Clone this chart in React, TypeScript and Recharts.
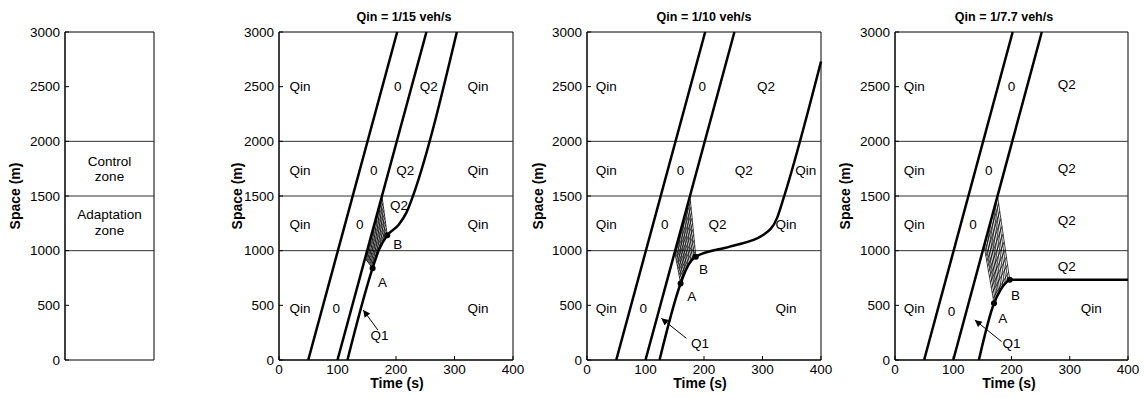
import { LineChart, Line, XAxis, YAxis, ReferenceLine, ReferenceDot, ReferenceArea } from "recharts";

type Pt = { t: number; s: number };
type Tag = { text: string; t: number; s: number };

const timeTicks = [0, 100, 200, 300, 400];
const spaceTicks = [0, 500, 1000, 1500, 2000, 2500, 3000];
const zoneBounds = [1000, 1500, 2000];

const firstVehicle: Pt[] = [{ t: 50, s: 0 }, { t: 202, s: 3000 }];
const secondVehicle: Pt[] = [{ t: 100, s: 0 }, { t: 252, s: 3000 }];

// third vehicle, one per inflow
const pathQ15: Pt[] = [
  { t: 117, s: 0 }, { t: 160, s: 840 }, { t: 171, s: 1010 }, { t: 185, s: 1140 },
  { t: 205, s: 1240 }, { t: 218, s: 1350 }, { t: 226, s: 1455 }, { t: 230, s: 1515 }, { t: 304, s: 3000 },
];
const pathQ10: Pt[] = [
  { t: 124, s: 0 }, { t: 160, s: 700 }, { t: 171, s: 845 }, { t: 186, s: 945 },
  { t: 244, s: 1037 }, { t: 301, s: 1143 }, { t: 325, s: 1300 }, { t: 336, s: 1480 }, { t: 400, s: 2730 },
];
const pathQ77: Pt[] = [
  { t: 144, s: 0 }, { t: 170, s: 519 }, { t: 181, s: 640 }, { t: 190, s: 705 }, { t: 197, s: 733 }, { t: 400, s: 735 },
];

// fan corners: A, mid of A-B curve, B, top on 2nd vehicle, left on 2nd vehicle
const fanQ15 = { A: { t: 160, s: 840 }, M: { t: 171, s: 1010 }, B: { t: 185, s: 1140 }, T: { t: 176, s: 1500 }, L: { t: 147, s: 930 } };
const fanQ10 = { A: { t: 160, s: 700 }, M: { t: 171, s: 845 }, B: { t: 186, s: 945 }, T: { t: 176, s: 1500 }, L: { t: 150, s: 990 } };
const fanQ77 = { A: { t: 170, s: 519 }, M: { t: 181, s: 640 }, B: { t: 197, s: 733 }, T: { t: 176, s: 1500 }, L: { t: 153, s: 1045 } };

const tagsQ15: Tag[] = [
  { text: "Qin", t: 36, s: 2500 }, { text: "0", t: 203, s: 2500 }, { text: "Q2", t: 256, s: 2500 }, { text: "Qin", t: 340, s: 2500 },
  { text: "Qin", t: 36, s: 1740 }, { text: "0", t: 162, s: 1740 }, { text: "Q2", t: 216, s: 1740 }, { text: "Qin", t: 340, s: 1740 },
  { text: "Qin", t: 36, s: 1240 }, { text: "0", t: 138, s: 1240 }, { text: "Q2", t: 205, s: 1420 }, { text: "Qin", t: 340, s: 1240 },
  { text: "B", t: 203, s: 1061 }, { text: "A", t: 177, s: 716 },
  { text: "Qin", t: 36, s: 470 }, { text: "0", t: 98, s: 470 }, { text: "Qin", t: 340, s: 470 }, { text: "Q1", t: 172, s: 229 },
];
const tagsQ10: Tag[] = [
  { text: "Qin", t: 33, s: 2500 }, { text: "0", t: 197, s: 2500 }, { text: "Q2", t: 306, s: 2500 },
  { text: "Qin", t: 33, s: 1740 }, { text: "0", t: 160, s: 1740 }, { text: "Q2", t: 268, s: 1740 }, { text: "Qin", t: 374, s: 1740 },
  { text: "Qin", t: 33, s: 1240 }, { text: "0", t: 133, s: 1240 }, { text: "Q2", t: 223, s: 1240 }, { text: "Qin", t: 340, s: 1240 },
  { text: "B", t: 199, s: 830 }, { text: "A", t: 179, s: 585 },
  { text: "Qin", t: 33, s: 470 }, { text: "0", t: 96, s: 470 }, { text: "Qin", t: 340, s: 470 }, { text: "Q1", t: 193, s: 152 },
];
const tagsQ77: Tag[] = [
  { text: "Qin", t: 33, s: 2500 }, { text: "0", t: 200, s: 2500 }, { text: "Q2", t: 295, s: 2520 },
  { text: "Qin", t: 33, s: 1740 }, { text: "0", t: 161, s: 1740 }, { text: "Q2", t: 295, s: 1750 },
  { text: "Qin", t: 33, s: 1240 }, { text: "0", t: 134, s: 1240 }, { text: "Q2", t: 295, s: 1281 },
  { text: "Q2", t: 295, s: 860 }, { text: "B", t: 207, s: 595 }, { text: "A", t: 185, s: 381 },
  { text: "Qin", t: 33, s: 470 }, { text: "0", t: 97, s: 442 }, { text: "Qin", t: 337, s: 470 }, { text: "Q1", t: 200, s: 152 },
];

const arrowQ15: Pt[] = [{ t: 169, s: 274 }, { t: 144, s: 457 }];
const arrowQ10: Pt[] = [{ t: 170, s: 198 }, { t: 127, s: 381 }];
const arrowQ77: Pt[] = [{ t: 183, s: 168 }, { t: 137, s: 366 }];

const zoneTags = [
  { text: "Control", s: 1820 }, { text: "zone", s: 1683 },
  { text: "Adaptation", s: 1336 }, { text: "zone", s: 1189 },
];

type Fan = { A: Pt; M: Pt; B: Pt; T: Pt; L: Pt };

const mix = (p: Pt, q: Pt, f: number): Pt => ({ t: p.t + (q.t - p.t) * f, s: p.s + (q.s - p.s) * f });
const onCurve = (f: Fan, u: number): Pt => (u < 0.5 ? mix(f.A, f.M, u * 2) : mix(f.M, f.B, u * 2 - 1));

// crosshatch texture inside the fan
function hatch(f: Fan, n = 11): Pt[][] {
  const out: Pt[][] = [];
  for (let k = 1; k < n; k++) {
    const u = k / n;
    out.push([onCurve(f, u), mix(f.L, f.T, u)]);
    out.push([mix(f.A, f.L, u), mix(f.B, f.T, u)]);
  }
  out.push([f.A, f.L], [f.B, f.T]);
  return out;
}

const axisTick = { fontSize: 13.5, fill: "#000" };
const H = 398;

type PanelProps = {
  id: string; left: number; width: number; mLeft: number; mRight: number;
  path: Pt[]; fan: Fan; tags: Tag[]; arrow: Pt[];
};

function Panel({ id, left, width, mLeft, mRight, path, fan, tags, arrow }: PanelProps) {
  return (
    <div style={{ position: "absolute", left, top: 0 }}>
      <LineChart width={width} height={H} margin={{ top: 32, right: mRight, bottom: 0, left: mLeft }}>
        <defs>
          <marker id={id} viewBox="0 0 10 10" refX="10" refY="5" markerWidth="9" markerHeight="7"
            markerUnits="userSpaceOnUse" orient="auto">
            <path d="M0,0 L10,5 L0,10 z" fill="#000" />
          </marker>
        </defs>
        <XAxis dataKey="t" type="number" domain={[0, 400]} ticks={timeTicks} height={38}
          stroke="#000" tick={axisTick} tickSize={-4} tickMargin={8} />
        <YAxis type="number" domain={[0, 3000]} ticks={spaceTicks} width={40}
          stroke="#000" tick={axisTick} tickSize={-4} tickMargin={9} />
        <ReferenceArea x1={0} x2={400} y1={0} y2={3000} fill="none" stroke="#000" strokeWidth={1} />
        {zoneBounds.map((z) => (
          <ReferenceLine key={z} y={z} stroke="#333" strokeWidth={1} />
        ))}
        {hatch(fan).map((seg, i) => (
          <Line key={"h" + i} data={seg} dataKey="s" stroke="#000" strokeWidth={0.75}
            dot={false} activeDot={false} isAnimationActive={false} />
        ))}
        <Line data={firstVehicle} dataKey="s" stroke="#000" strokeWidth={2.5} dot={false} activeDot={false} isAnimationActive={false} />
        <Line data={secondVehicle} dataKey="s" stroke="#000" strokeWidth={2.5} dot={false} activeDot={false} isAnimationActive={false} />
        <Line data={path} dataKey="s" type="monotone" stroke="#000" strokeWidth={2.5} dot={false} activeDot={false} isAnimationActive={false} />
        <Line data={arrow} dataKey="s" stroke="#000" strokeWidth={1} markerEnd={`url(#${id})`}
          dot={false} activeDot={false} isAnimationActive={false} />
        <ReferenceDot x={fan.A.t} y={fan.A.s} r={3} fill="#000" stroke="none" />
        <ReferenceDot x={fan.B.t} y={fan.B.s} r={3} fill="#000" stroke="none" />
        {tags.map((g, i) => (
          <ReferenceDot key={"g" + i} x={g.t} y={g.s} r={0} fill="none" stroke="none"
            label={{ value: g.text, position: "center", fontSize: 13.5, fill: "#000" }} />
        ))}
      </LineChart>
    </div>
  );
}

function ZonePanel() {
  return (
    <div style={{ position: "absolute", left: 0, top: 0 }}>
      <LineChart width={160} height={H} margin={{ top: 32, right: 6, bottom: 38, left: 5 }}>
        <XAxis type="number" dataKey="t" domain={[0, 1]} hide />
        <YAxis type="number" domain={[0, 3000]} ticks={spaceTicks} width={60}
          stroke="#000" tick={axisTick} tickSize={-4} tickMargin={9} />
        <ReferenceArea x1={0} x2={1} y1={0} y2={3000} fill="none" stroke="#000" strokeWidth={1} />
        {zoneBounds.map((z) => (
          <Line key={z} data={[{ t: 0, s: z }, { t: 1, s: z }]} dataKey="s" stroke="#333" strokeWidth={1}
            dot={false} activeDot={false} isAnimationActive={false} />
        ))}
        {zoneTags.map((g, i) => (
          <ReferenceDot key={i} x={0.5} y={g.s} r={0} fill="none" stroke="none"
            label={{ value: g.text, position: "center", fontSize: 13.5, fill: "#000" }} />
        ))}
      </LineChart>
    </div>
  );
}

const titleStyle: React.CSSProperties = {
  position: "absolute", top: 10, fontSize: 12.5, fontWeight: "bold", whiteSpace: "nowrap", transform: "translateX(-50%)",
};
const xLabelStyle: React.CSSProperties = {
  position: "absolute", top: 376, fontSize: 14, lineHeight: "14px", fontWeight: "bold", whiteSpace: "nowrap", transform: "translateX(-50%)",
};
const yLabelStyle: React.CSSProperties = {
  position: "absolute", top: 196, fontSize: 14, fontWeight: "bold", whiteSpace: "nowrap",
  transform: "translate(-50%, -50%) rotate(-90deg)", lineHeight: "16px",
};

export default function App() {
  return (
    <div style={{
      position: "absolute", left: 0, top: 0, width: 1145, height: H, background: "#fff", overflow: "hidden",
      fontFamily: "'Liberation Sans', Arial, sans-serif", color: "#000",
    }}>
      <ZonePanel />
      <Panel id="arr15" left={230} width={300} mLeft={9} mRight={17} path={pathQ15} fan={fanQ15} tags={tagsQ15} arrow={arrowQ15} />
      <Panel id="arr10" left={530} width={310} mLeft={17} mRight={19} path={pathQ10} fan={fanQ10} tags={tagsQ10} arrow={arrowQ10} />
      <Panel id="arr77" left={830} width={315} mLeft={25} mRight={17} path={pathQ77} fan={fanQ77} tags={tagsQ77} arrow={arrowQ77} />

      <div style={{ ...titleStyle, left: 404 }}>Qin = 1/15 veh/s</div>
      <div style={{ ...titleStyle, left: 704 }}>Qin = 1/10 veh/s</div>
      <div style={{ ...titleStyle, left: 1004 }}>Qin = 1/7.7 veh/s</div>

      <div style={{ ...xLabelStyle, left: 397 }}>Time (s)</div>
      <div style={{ ...xLabelStyle, left: 700 }}>Time (s)</div>
      <div style={{ ...xLabelStyle, left: 1009 }}>Time (s)</div>

      <div style={{ ...yLabelStyle, left: 15 }}>Space (m)</div>
      <div style={{ ...yLabelStyle, left: 237 }}>Space (m)</div>
      <div style={{ ...yLabelStyle, left: 538 }}>Space (m)</div>
      <div style={{ ...yLabelStyle, left: 845 }}>Space (m)</div>
    </div>
  );
}
